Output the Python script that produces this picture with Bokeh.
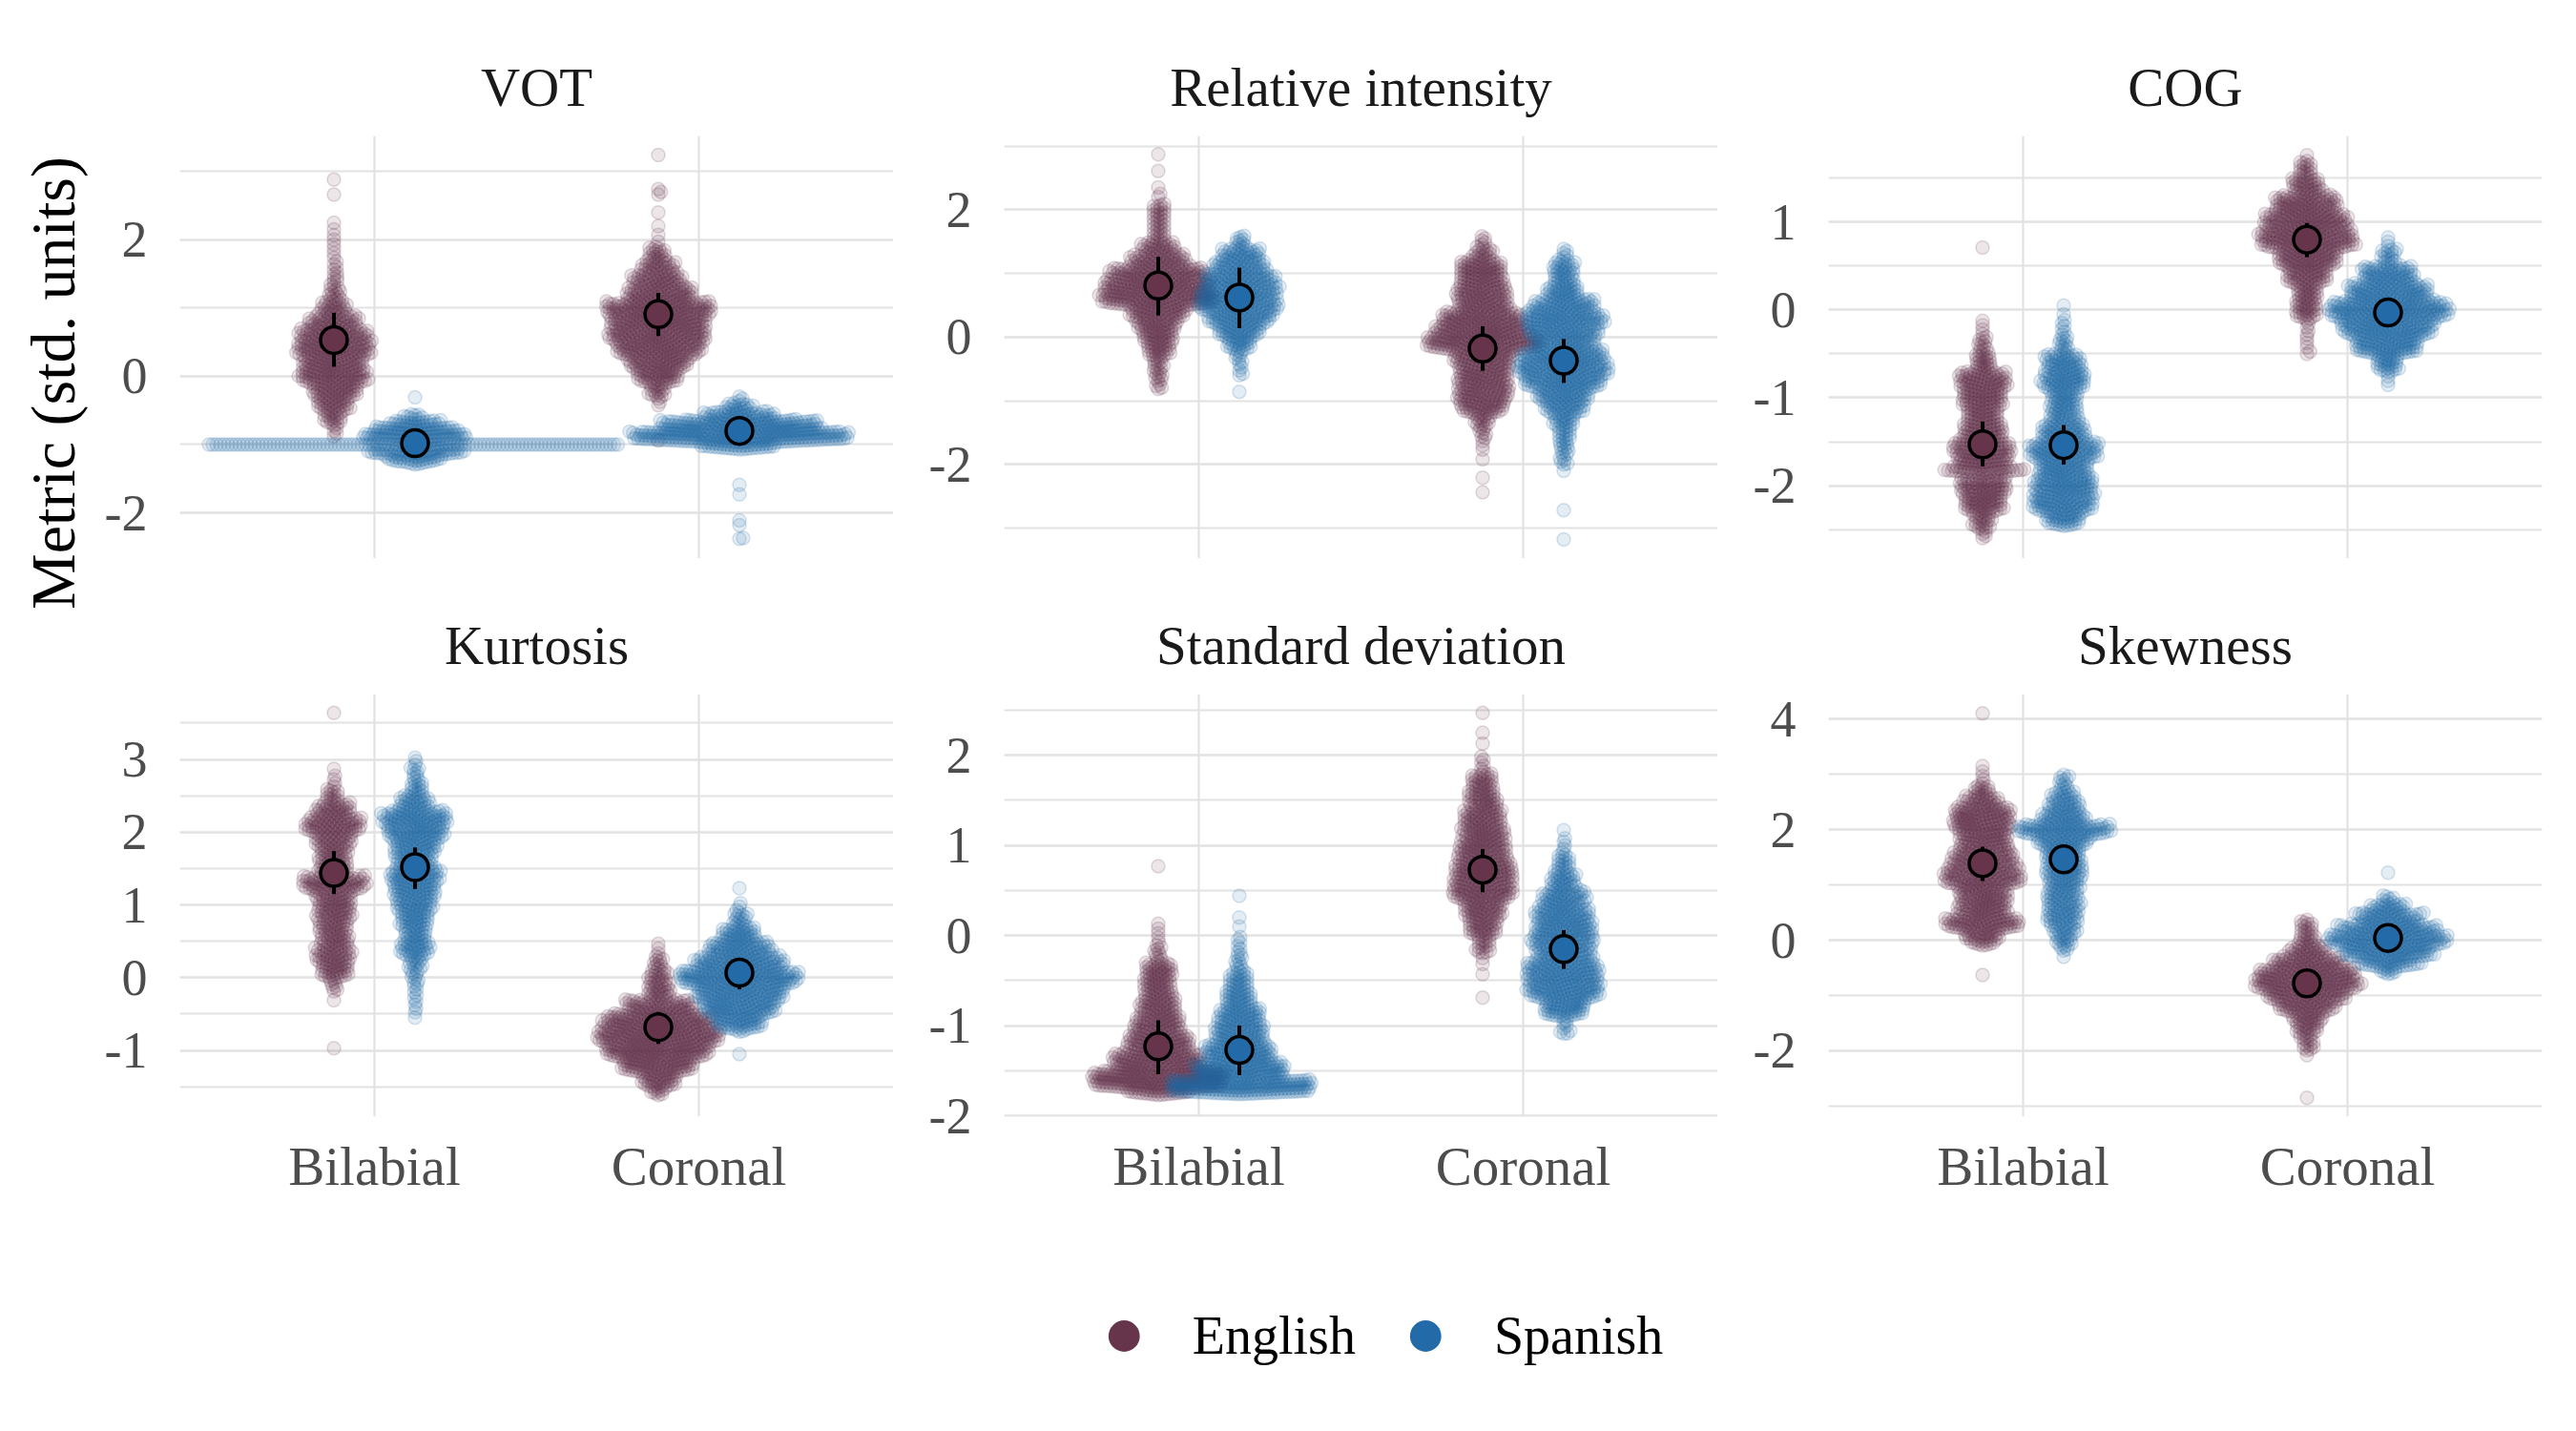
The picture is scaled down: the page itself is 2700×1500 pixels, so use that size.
import numpy as np
from bokeh.plotting import figure
from bokeh.models import (ColumnDataSource, Range1d, FixedTicker, SingleIntervalTicker,
                          Label, Legend, LegendItem)
from bokeh.layouts import column, row
from bokeh.embed import file_html
from bokeh.resources import INLINE

FONT = "Liberation Serif"
ENG_COL = "#66344b"
SPA_COL = "#226aa8"
GRID = "#e2e2e2"

places = ["Bilabial", "Coronal"]
languages = ["English", "Spanish"]
# group order in every panel: Bilabial-English, Bilabial-Spanish, Coronal-English, Coronal-Spanish

# swarm data: (value, count[, bin width]); bins are 0.2 wide by default
vot_bil_eng = [(2.88, 1), (2.66, 1), (2.2, 2), (2.0, 3), (1.8, 3), (1.6, 5), (1.4, 7), (1.2, 12),
               (1.0, 24), (0.8, 44), (0.6, 64), (0.4, 71), (0.2, 58), (0.0, 64), (-0.2, 44),
               (-0.4, 31), (-0.6, 18), (-0.8, 5)]
vot_bil_spa = [(-0.31, 1), (-0.6, 10, 0.1), (-0.7, 27, 0.1), (-0.8, 43, 0.1), (-0.9, 54, 0.1),
               (-1.0, 108, 0.0), (-1.1, 48, 0.1), (-1.2, 27, 0.1), (-1.27, 7, 0.05)]
vot_cor_eng = [(3.24, 1), (2.74, 1), (2.7, 1), (2.66, 1), (2.4, 1), (2.2, 1), (2.02, 2), (1.8, 16),
               (1.6, 30), (1.4, 46), (1.2, 62), (1.0, 100), (0.8, 92), (0.6, 92), (0.4, 80),
               (0.2, 56), (0.0, 40), (-0.2, 15), (-0.35, 4), (-0.94, 1)]
vot_cor_spa = [(-0.33, 3, 0.1), (-0.45, 16, 0.12), (-0.57, 40, 0.12), (-0.715, 131, 0.17),
               (-0.88, 178, 0.16), (-1.015, 43, 0.11), (-1.59, 1), (-1.73, 1), (-2.11, 1),
               (-2.18, 1), (-2.37, 1), (-2.38, 1)]

ri_bil_eng = [(2.87, 1), (2.61, 1), (2.3, 2), (2.2, 1), (2.0, 12), (1.8, 11), (1.6, 11), (1.4, 30),
              (1.2, 48), (1.0, 82), (0.8, 94), (0.6, 102), (0.4, 50), (0.2, 36), (0.0, 28),
              (-0.2, 22), (-0.4, 10), (-0.6, 9), (-0.78, 4, 0.1)]
ri_bil_spa = [(1.5, 10), (1.3, 34), (1.1, 44), (0.9, 60), (0.7, 66), (0.5, 68), (0.3, 55),
              (0.1, 38), (-0.1, 23), (-0.3, 7), (-0.5, 4), (-0.6, 1), (-0.86, 1)]
ri_cor_eng = [(1.5, 6), (1.3, 17), (1.1, 39), (0.9, 39), (0.7, 45), (0.5, 45), (0.3, 70),
              (0.1, 83), (-0.1, 101), (-0.3, 52), (-0.5, 45), (-0.7, 45), (-0.9, 45), (-1.1, 39),
              (-1.3, 14), (-1.5, 7), (-1.7, 3), (-1.92, 1), (-2.21, 1), (-2.44, 1)]
ri_cor_spa = [(1.3, 6), (1.1, 19), (0.9, 19), (0.7, 30), (0.5, 52), (0.3, 69), (0.1, 62),
              (-0.1, 52), (-0.3, 74), (-0.5, 79), (-0.7, 69), (-0.9, 46), (-1.1, 35), (-1.3, 19),
              (-1.5, 12), (-1.7, 10), (-1.9, 7), (-2.05, 2), (-2.72, 1), (-3.18, 1)]

cog_bil_eng = [(0.71, 1), (-0.2, 4), (-0.4, 12), (-0.6, 22), (-0.8, 57), (-1.0, 50), (-1.2, 40),
               (-1.4, 50), (-1.6, 68), (-1.75, 30, 0.1), (-1.83, 32, 0.06), (-2.0, 57),
               (-2.2, 50), (-2.4, 22), (-2.56, 4, 0.1)]
cog_bil_spa = [(0.0, 2), (-0.2, 6), (-0.4, 13), (-0.6, 43), (-0.8, 53), (-1.0, 34), (-1.2, 34),
               (-1.4, 53), (-1.6, 82), (-1.8, 61), (-2.0, 72), (-2.2, 72), (-2.38, 34, 0.16)]
cog_cor_eng = [(1.76, 1), (1.6, 16), (1.4, 35), (1.2, 74), (1.0, 99), (0.8, 113), (0.6, 74),
               (0.4, 49), (0.2, 27), (0.0, 27), (-0.2, 5), (-0.4, 4), (-0.5, 1)]
cog_cor_spa = [(0.75, 4), (0.6, 16), (0.4, 61), (0.2, 95), (0.0, 143), (-0.2, 109), (-0.4, 77),
               (-0.6, 28), (-0.78, 4)]

kurt_bil_eng = [(3.64, 1), (2.87, 1), (2.7, 4), (2.5, 13), (2.3, 35), (2.1, 55), (1.9, 35),
                (1.7, 29), (1.5, 29), (1.3, 62), (1.1, 35), (0.9, 35), (0.7, 29), (0.5, 29),
                (0.3, 35), (0.1, 29), (-0.1, 8), (-0.31, 1), (-0.97, 1)]
kurt_bil_spa = [(2.95, 4), (2.8, 7), (2.6, 14), (2.4, 30), (2.2, 65), (2.0, 57), (1.8, 43),
                (1.6, 36), (1.4, 50), (1.2, 43), (1.0, 36), (0.8, 30), (0.6, 23), (0.4, 30),
                (0.2, 14), (0.0, 8), (-0.2, 5), (-0.4, 4), (-0.55, 1)]
kurt_cor_eng = [(0.4, 3), (0.2, 11), (0.0, 19), (-0.2, 24), (-0.4, 64), (-0.6, 108), (-0.8, 124),
                (-1.0, 108), (-1.2, 74), (-1.4, 35), (-1.56, 9, 0.12)]
kurt_cor_spa = [(1.23, 1), (0.95, 4), (0.8, 13), (0.6, 35), (0.4, 62), (0.2, 87), (0.0, 121),
                (-0.2, 87), (-0.4, 75), (-0.6, 48), (-0.72, 5, 0.06), (-1.05, 1)]

sd_bil_eng = [(0.77, 1), (0.13, 1), (0.0, 4), (-0.2, 10), (-0.4, 36), (-0.6, 36), (-0.8, 46),
              (-1.0, 58), (-1.2, 78), (-1.4, 110), (-1.6, 173), (-1.74, 25, 0.06)]
sd_bil_spa = [(0.44, 1), (0.2, 1), (0.1, 1), (-0.1, 6), (-0.3, 10), (-0.5, 24), (-0.7, 34),
              (-0.9, 54), (-1.1, 62), (-1.3, 83), (-1.5, 114), (-1.68, 154, 0.16)]
sd_cor_eng = [(2.47, 1), (2.25, 1), (2.13, 1), (1.9, 6), (1.7, 28), (1.5, 36), (1.3, 48),
              (1.1, 55), (0.9, 62), (0.7, 75), (0.5, 75), (0.3, 48), (0.1, 36), (-0.1, 16),
              (-0.25, 3), (-0.43, 1), (-0.69, 1)]
sd_cor_spa = [(1.17, 1), (1.0, 5), (0.8, 17), (0.6, 31), (0.4, 53), (0.2, 68), (0.0, 75),
              (-0.2, 68), (-0.4, 89), (-0.6, 89), (-0.8, 53), (-1.0, 7), (-1.08, 2, 0.04)]

skew_bil_eng = [(4.1, 1), (3.1, 2), (2.9, 3), (2.7, 14), (2.5, 27), (2.3, 45), (2.1, 45),
                (1.9, 38), (1.7, 38), (1.5, 45), (1.3, 51), (1.1, 58), (0.9, 38), (0.7, 38),
                (0.5, 38), (0.3, 58), (0.1, 27), (-0.05, 10, 0.1), (-0.63, 1)]
skew_bil_spa = [(2.95, 4, 0.1), (2.8, 7), (2.6, 18), (2.4, 24), (2.2, 34), (2.0, 71), (1.8, 39),
                (1.6, 29), (1.4, 29), (1.2, 29), (1.0, 24), (0.8, 24), (0.6, 24), (0.4, 24),
                (0.2, 18), (0.0, 13), (-0.15, 4, 0.1), (-0.3, 1)]
skew_cor_eng = [(0.33, 4, 0.1), (0.2, 9), (0.0, 13), (-0.2, 28), (-0.4, 51), (-0.6, 74),
                (-0.8, 81), (-1.0, 59), (-1.2, 43), (-1.4, 24), (-1.6, 17), (-1.8, 9),
                (-1.95, 5, 0.1), (-2.08, 1), (-2.85, 1)]
skew_cor_spa = [(1.22, 1), (0.72, 9), (0.56, 25), (0.4, 42), (0.2, 73), (0.0, 91), (-0.2, 67),
                (-0.38, 39), (-0.52, 14)]

# model estimates (point) and interval, same group order
vot_mean = [0.53, -0.98, 0.91, -0.80]
vot_lo = [0.14, -1.05, 0.59, -0.87]
vot_hi = [0.93, -0.91, 1.22, -0.73]
ri_mean = [0.81, 0.62, -0.18, -0.37]
ri_lo = [0.34, 0.14, -0.53, -0.72]
ri_hi = [1.26, 1.09, 0.17, -0.03]
cog_mean = [-1.53, -1.54, 0.80, -0.03]
cog_lo = [-1.78, -1.76, 0.60, -0.10]
cog_hi = [-1.27, -1.31, 0.99, 0.04]
kurt_mean = [1.44, 1.52, -0.68, 0.07]
kurt_lo = [1.15, 1.22, -0.91, -0.16]
kurt_hi = [1.74, 1.79, -0.47, 0.27]
sd_mean = [-1.23, -1.27, 0.73, -0.15]
sd_lo = [-1.54, -1.55, 0.48, -0.37]
sd_hi = [-0.94, -1.00, 0.96, 0.06]
skew_mean = [1.39, 1.46, -0.78, 0.04]
skew_lo = [1.07, 1.30, -0.92, -0.06]
skew_hi = [1.69, 1.62, -0.64, 0.14]

panels = [
    ("VOT", [vot_bil_eng, vot_bil_spa, vot_cor_eng, vot_cor_spa], vot_mean, vot_lo, vot_hi, (-2.67, 3.52), 2),
    ("Relative intensity", [ri_bil_eng, ri_bil_spa, ri_cor_eng, ri_cor_spa], ri_mean, ri_lo, ri_hi, (-3.48, 3.16), 2),
    ("COG", [cog_bil_eng, cog_bil_spa, cog_cor_eng, cog_cor_spa], cog_mean, cog_lo, cog_hi, (-2.83, 1.98), 1),
    ("Kurtosis", [kurt_bil_eng, kurt_bil_spa, kurt_cor_eng, kurt_cor_spa], kurt_mean, kurt_lo, kurt_hi, (-1.91, 3.90), 1),
    ("Standard deviation", [sd_bil_eng, sd_bil_spa, sd_cor_eng, sd_cor_spa], sd_mean, sd_lo, sd_hi, (-2.01, 2.68), 1),
    ("Skewness", [skew_bil_eng, skew_bil_spa, skew_cor_eng, skew_cor_spa], skew_mean, skew_lo, skew_hi, (-3.19, 4.45), 2),
]

FW, FH = 748, 443
BIN = 0.2
SWARM_D = 4.0
DODGE = 0.125


def expand(bins):
    out = []
    for b in bins:
        v, n = b[0], b[1]
        w = b[2] if len(b) > 2 else BIN
        if n == 1 or w == 0:
            out.extend([v] * n)
        else:
            out.extend(v - w / 2 + (i + 0.5) * w / n for i in range(n))
    return np.array(out, dtype=float)


def swarm(ypx, d):
    # place points in ascending y, each as close to the centre line as it can go
    order = np.argsort(ypx, kind="stable")
    py = np.empty(len(ypx))
    px = np.empty(len(ypx))
    xs = np.zeros(len(ypx))
    k = 0
    start = 0
    for idx in order:
        y = ypx[idx]
        while start < k and py[start] <= y - d:
            start += 1
        ny = py[start:k]
        nx = px[start:k]
        x = 0.0
        if len(ny):
            dy = y - ny
            off = np.sqrt(np.maximum(d * d - dy * dy, 0.0))
            cand = np.concatenate(([0.0], nx + off, nx - off))
            dist2 = (cand[:, None] - nx[None, :]) ** 2 + dy[None, :] ** 2
            ok = np.all(dist2 >= d * d - 1e-6, axis=1)
            c = cand[ok]
            x = c[np.argmin(np.abs(c))]
        py[k] = y
        px[k] = x
        k += 1
        xs[idx] = x
    return xs


def style_panel(p, step, ylim, top_row):
    p.title.align = "center"
    p.title.text_font = FONT
    p.title.text_font_size = "57px"
    p.title.text_font_style = "normal"
    p.title.text_color = "#1a1a1a"
    p.title.standoff = 40
    p.outline_line_color = None
    p.background_fill_color = "white"
    p.border_fill_color = "white"

    p.yaxis.ticker = SingleIntervalTicker(interval=step, num_minor_ticks=2)
    p.ygrid.ticker = p.yaxis[0].ticker
    p.yaxis.axis_line_color = None
    p.yaxis.major_tick_line_color = None
    p.yaxis.minor_tick_line_color = None
    p.yaxis.major_tick_out = 0
    p.yaxis.minor_tick_out = 0
    p.yaxis.major_label_standoff = 34
    p.yaxis.major_label_text_font = FONT
    p.yaxis.major_label_text_font_size = "54px"
    p.yaxis.major_label_text_color = "#4d4d4d"
    # plain hyphen for negative tick labels, as in the original
    ticks = range(int(np.ceil(ylim[0])), int(np.floor(ylim[1])) + 1)
    p.yaxis.major_label_overrides = {t: str(t) for t in ticks if t % step == 0}

    p.ygrid.grid_line_color = GRID
    p.ygrid.grid_line_width = 2.2
    p.ygrid.minor_grid_line_color = GRID
    p.ygrid.minor_grid_line_width = 2.2

    xt = FixedTicker(ticks=[1, 2])
    p.xaxis.ticker = xt
    p.xgrid.ticker = xt
    p.xgrid.grid_line_color = GRID
    p.xgrid.grid_line_width = 2.2
    p.xaxis.major_label_overrides = {1: places[0], 2: places[1]}
    p.xaxis.axis_line_color = None
    p.xaxis.major_tick_line_color = None
    p.xaxis.minor_tick_line_color = None
    p.xaxis.major_tick_out = 0
    p.xaxis.minor_tick_out = 0
    p.xaxis.major_label_standoff = 20
    p.xaxis.major_label_text_font = FONT
    p.xaxis.major_label_text_font_size = "57px"
    p.xaxis.major_label_text_color = "#4d4d4d"
    if top_row:
        p.xaxis.visible = False


figs = []
for i, (name, groups, means, los, his, ylim, step) in enumerate(panels):
    top_row = i < 3
    col = i % 3
    p = figure(title=name, frame_width=FW, frame_height=FH,
               x_range=Range1d(0.4, 2.6), y_range=Range1d(*ylim),
               min_border_left=85 if col == 0 else 116,
               min_border_right=20 if col == 2 else 0,
               min_border_top=142,
               min_border_bottom=0 if top_row else 100,
               toolbar_location=None, output_backend="svg")
    style_panel(p, step, ylim, top_row)

    ypx_per_unit = FH / (ylim[1] - ylim[0])
    xpx_per_unit = FW / 2.2
    centres = []
    for g, bins in enumerate(groups):
        place = g // 2 + 1
        lang = g % 2
        cx = place + (DODGE if lang else -DODGE)
        centres.append(cx)
        yv = expand(bins)
        off = swarm(yv * ypx_per_unit, SWARM_D) / xpx_per_unit
        colr = SPA_COL if lang else ENG_COL
        src = ColumnDataSource(data=dict(x=cx + off, y=yv))
        p.scatter("x", "y", source=src, size=14, fill_color=colr, fill_alpha=0.12,
                  line_color=colr, line_alpha=0.18, line_width=1.5)

    est = ColumnDataSource(data=dict(
        x=centres, mean=means, lo=los, hi=his,
        colour=[ENG_COL, SPA_COL, ENG_COL, SPA_COL]))
    p.segment(x0="x", y0="lo", x1="x", y1="hi", source=est, line_color="black", line_width=4)
    p.scatter("x", "mean", source=est, size=28, fill_color="colour", fill_alpha=1.0,
              line_color="black", line_width=3.5)
    figs.append(p)

# strip on the left that carries the shared y-axis title
yfig = figure(width=103, height=1270, x_range=Range1d(0, 103), y_range=Range1d(0, 1270),
              min_border=0, toolbar_location=None, output_backend="svg")
yfig.axis.visible = False
yfig.grid.visible = False
yfig.outline_line_color = None
yfig.add_layout(Label(x=55, y=869, text="Metric (std. units)", angle=np.pi / 2,
                      text_align="center", text_baseline="middle",
                      text_font=FONT, text_font_size="66px", text_color="black"))

# legend strip below the panels
lf = figure(width=2684, height=190, min_border_left=196, min_border_right=0,
            min_border_top=70, min_border_bottom=0,
            x_range=Range1d(0, 1), y_range=Range1d(0, 1),
            toolbar_location=None, output_backend="svg")
lf.axis.visible = False
lf.grid.visible = False
lf.outline_line_color = None
r_eng = lf.scatter(x=[-5], y=[-5], size=33, fill_color=ENG_COL, line_color=None)
r_spa = lf.scatter(x=[-5], y=[-5], size=33, fill_color=SPA_COL, line_color=None)
legend = Legend(items=[LegendItem(label=languages[0], renderers=[r_eng]),
                       LegendItem(label=languages[1], renderers=[r_spa])],
                orientation="horizontal", location="center",
                glyph_width=82, glyph_height=82, label_standoff=31, spacing=32, padding=10,
                label_text_font=FONT, label_text_font_size="56px", label_text_color="black",
                border_line_color=None, background_fill_alpha=0)
lf.add_layout(legend)

grid = column(row(figs[0], figs[1], figs[2]), row(figs[3], figs[4], figs[5]))
layout = column(row(yfig, grid), lf)
open("out.html", "w").write(file_html(layout, INLINE))
